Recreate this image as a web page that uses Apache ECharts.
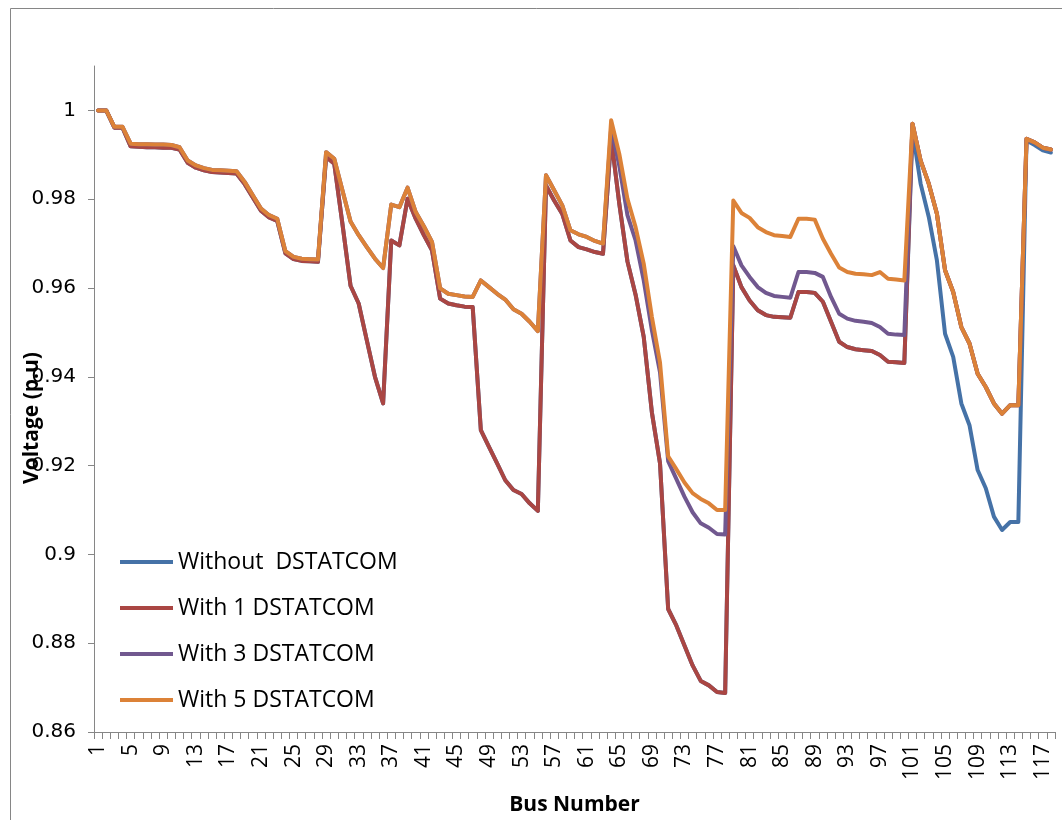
<!DOCTYPE html>
<html><head><meta charset="utf-8">
<script src="https://cdn.jsdelivr.net/npm/echarts@6/dist/echarts.min.js"></script>
<style>html,body{margin:0;padding:0;background:#fff}#c{width:1062px;height:820px}</style>
</head><body><div id="c"></div>
<script>
const busNumbers = [1,2,3,4,5,6,7,8,9,10,11,12,13,14,15,16,17,18,19,20,21,22,23,24,25,26,27,28,29,30,
31,32,33,34,35,36,37,38,39,40,41,42,43,44,45,46,47,48,49,50,51,52,53,54,55,56,57,58,59,60,
61,62,63,64,65,66,67,68,69,70,71,72,73,74,75,76,77,78,79,80,81,82,83,84,85,86,87,88,89,90,
91,92,93,94,95,96,97,98,99,100,101,102,103,104,105,106,107,108,109,110,111,112,113,114,115,116,117,118];

const withoutDSTATCOM = [
1.0000,1.0000,0.9961,0.9961,0.9919,0.9918,0.9917,0.9917,0.9916,0.9916,
0.9912,0.9882,0.9871,0.9865,0.9861,0.9860,0.9859,0.9858,0.9834,0.9804,
0.9774,0.9759,0.9751,0.9678,0.9665,0.9661,0.9660,0.9659,0.9895,0.9880,
0.9745,0.9605,0.9565,0.9482,0.9400,0.9340,0.9707,0.9696,0.9801,0.9756,
0.9719,0.9685,0.9576,0.9565,0.9561,0.9558,0.9557,0.9280,0.9242,0.9205,
0.9167,0.9145,0.9136,0.9115,0.9098,0.9831,0.9797,0.9767,0.9707,0.9692,
0.9687,0.9681,0.9677,0.9938,0.9790,0.9660,0.9585,0.9490,0.9320,0.9205,
0.8877,0.8840,0.8795,0.8750,0.8715,0.8705,0.8690,0.8688,0.9651,0.9602,
0.9572,0.9550,0.9539,0.9535,0.9534,0.9533,0.9591,0.9591,0.9589,0.9569,
0.9524,0.9479,0.9467,0.9462,0.9460,0.9458,0.9449,0.9434,0.9433,0.9431,
0.9955,0.9835,0.9760,0.9662,0.9497,0.9445,0.9340,0.9291,0.9190,0.9149,
0.9085,0.9055,0.9073,0.9073,0.9932,0.9922,0.9910,0.9905];

const with1DSTATCOM = [
1.0000,1.0000,0.9961,0.9961,0.9919,0.9918,0.9917,0.9917,0.9916,0.9916,
0.9912,0.9882,0.9871,0.9865,0.9861,0.9860,0.9859,0.9858,0.9834,0.9804,
0.9774,0.9759,0.9751,0.9678,0.9665,0.9661,0.9660,0.9659,0.9895,0.9880,
0.9745,0.9605,0.9565,0.9482,0.9400,0.9340,0.9707,0.9696,0.9801,0.9756,
0.9719,0.9685,0.9576,0.9565,0.9561,0.9558,0.9557,0.9280,0.9242,0.9205,
0.9167,0.9145,0.9136,0.9115,0.9098,0.9831,0.9797,0.9767,0.9707,0.9692,
0.9687,0.9681,0.9677,0.9938,0.9790,0.9660,0.9585,0.9490,0.9320,0.9205,
0.8877,0.8840,0.8795,0.8750,0.8715,0.8705,0.8690,0.8688,0.9651,0.9602,
0.9572,0.9550,0.9539,0.9535,0.9534,0.9533,0.9591,0.9591,0.9589,0.9569,
0.9524,0.9479,0.9467,0.9462,0.9460,0.9458,0.9449,0.9434,0.9433,0.9431,
0.9970,0.9887,0.9835,0.9767,0.9640,0.9591,0.9512,0.9475,0.9407,0.9377,
0.9340,0.9317,0.9336,0.9336,0.9936,0.9928,0.9916,0.9912];

const with3DSTATCOM = [
1.0000,1.0000,0.9963,0.9963,0.9925,0.9924,0.9924,0.9923,0.9923,0.9922,
0.9917,0.9887,0.9876,0.9870,0.9866,0.9865,0.9864,0.9863,0.9839,0.9809,
0.9779,0.9764,0.9756,0.9683,0.9670,0.9666,0.9665,0.9664,0.9906,0.9891,
0.9820,0.9750,0.9719,0.9692,0.9666,0.9645,0.9788,0.9782,0.9826,0.9771,
0.9739,0.9704,0.9599,0.9587,0.9584,0.9581,0.9580,0.9617,0.9602,0.9587,
0.9574,0.9552,0.9542,0.9524,0.9503,0.9854,0.9820,0.9786,0.9730,0.9721,
0.9715,0.9706,0.9700,0.9960,0.9875,0.9764,0.9707,0.9617,0.9505,0.9410,
0.9210,0.9170,0.9130,0.9095,0.9070,0.9060,0.9046,0.9045,0.9694,0.9651,
0.9625,0.9602,0.9589,0.9582,0.9580,0.9578,0.9636,0.9636,0.9634,0.9625,
0.9580,0.9542,0.9531,0.9526,0.9524,0.9521,0.9512,0.9497,0.9495,0.9494,
0.9970,0.9887,0.9835,0.9767,0.9640,0.9591,0.9512,0.9475,0.9407,0.9377,
0.9340,0.9317,0.9336,0.9336,0.9936,0.9928,0.9916,0.9912];

const with5DSTATCOM = [
1.0000,1.0000,0.9963,0.9963,0.9925,0.9924,0.9924,0.9923,0.9923,0.9922,
0.9917,0.9887,0.9876,0.9870,0.9866,0.9865,0.9864,0.9863,0.9839,0.9809,
0.9779,0.9764,0.9756,0.9683,0.9670,0.9666,0.9665,0.9664,0.9906,0.9891,
0.9820,0.9750,0.9719,0.9692,0.9666,0.9645,0.9788,0.9782,0.9826,0.9771,
0.9739,0.9704,0.9599,0.9587,0.9584,0.9581,0.9580,0.9617,0.9602,0.9587,
0.9574,0.9552,0.9542,0.9524,0.9503,0.9854,0.9820,0.9786,0.9730,0.9721,
0.9715,0.9706,0.9700,0.9978,0.9902,0.9801,0.9737,0.9655,0.9535,0.9432,
0.9221,0.9192,0.9162,0.9138,0.9125,0.9115,0.9100,0.9100,0.9797,0.9769,
0.9758,0.9737,0.9726,0.9719,0.9717,0.9715,0.9756,0.9756,0.9754,0.9711,
0.9677,0.9646,0.9636,0.9632,0.9631,0.9629,0.9636,0.9621,0.9619,0.9617,
0.9970,0.9887,0.9835,0.9767,0.9640,0.9591,0.9512,0.9475,0.9407,0.9377,
0.9340,0.9317,0.9336,0.9336,0.9936,0.9928,0.9916,0.9912];

const seriesNames = ['Without  DSTATCOM', 'With 1 DSTATCOM', 'With 3 DSTATCOM', 'With 5 DSTATCOM'];
const seriesColors = ['#4572A7', '#AA4643', '#71588F', '#DC8238'];
const yTicks = [0.86, 0.88, 0.9, 0.92, 0.94, 0.96, 0.98, 1];
const yMin = 0.86, yMax = 1.01;

const seriesData = [withoutDSTATCOM, with1DSTATCOM, with3DSTATCOM, with5DSTATCOM];

const chart = echarts.init(document.getElementById('c'), null, {renderer: 'canvas'});
chart.setOption({
  animation: false,
  backgroundColor: '#fff',
  grid: {left: 94, right: 7, top: 66, bottom: 88, containLabel: false, outerBoundsMode: 'none'},
  xAxis: {
    type: 'category',
    data: busNumbers,
    boundaryGap: true,
    name: 'Bus Number',
    nameLocation: 'middle',
    nameGap: 63,
    nameTextStyle: {fontFamily: 'Open Sans', fontWeight: 'bold', fontSize: 21, color: '#000'},
    axisLine: {lineStyle: {color: '#868686', width: 1}},
    axisTick: {show: true, interval: 0, alignWithLabel: false, length: 7, lineStyle: {color: '#868686'}},
    axisLabel: {interval: 3, rotate: 90, margin: 12, fontFamily: 'Open Sans', fontSize: 21, color: '#000'},
    splitLine: {show: false}
  },
  yAxis: {
    type: 'value',
    min: yMin, max: yMax,
    interval: 0.02,
    axisLine: {show: true, lineStyle: {color: '#868686', width: 1}},
    axisTick: {show: true, length: 6, lineStyle: {color: '#868686'}, customValues: yTicks},
    axisLabel: {margin: 18, fontFamily: 'DejaVu Sans', fontSize: 20, color: '#000', customValues: yTicks,
      formatter: v => String(+v.toFixed(2))},
    splitLine: {show: false}
  },
  legend: {
    orient: 'vertical',
    left: 115, top: 545,
    icon: 'rect',
    itemWidth: 53, itemHeight: 4,
    itemGap: 22,
    selectedMode: false,
    textStyle: {fontFamily: 'Open Sans', fontSize: 23, color: '#000', lineHeight: 24},
    data: seriesNames
  },
  series: seriesData.map((d, i) => ({
    name: seriesNames[i],
    type: 'line',
    data: d,
    showSymbol: false,
    symbol: 'none',
    color: seriesColors[i],
    lineStyle: {width: 4, color: seriesColors[i], cap: 'round', join: 'round'},
    z: 2 + i
  })),
  graphic: [
    {type: 'rect', left: 8, top: 6, shape: {width: 1100, height: 900}, style: {fill: 'none', stroke: '#868686', lineWidth: 1}, silent: true, z: -10},
    {type: 'text', x: 32, y: 418, rotation: Math.PI / 2, z: 100,
      style: {text: 'Voltage (p.u)', fontFamily: 'Open Sans', fontWeight: 'bold', fontSize: 21, fill: '#000', align: 'center', verticalAlign: 'middle'}}
  ]
});
</script>
</body></html>
